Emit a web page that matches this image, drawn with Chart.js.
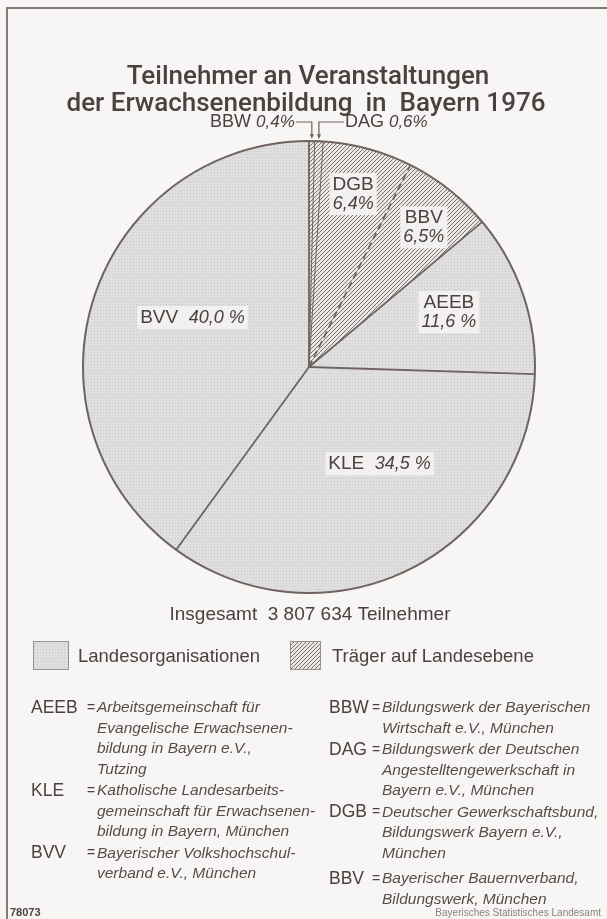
<!DOCTYPE html>
<html>
<head>
<meta charset="utf-8">
<script src="https://cdn.jsdelivr.net/npm/chart.js@4.4.1/dist/chart.umd.min.js"></script>
<style>
  html, body { margin: 0; padding: 0; background: #f7f6f4; }
  canvas { display: block; }
</style>
</head>
<body>
<canvas id="pie" width="607" height="919"></canvas>
<script>
// slices, clockwise from 12 o'clock
const labels = ['BBW', 'DAG', 'DGB', 'BBV', 'AEEB', 'KLE', 'BVV'];
const shares = [0.4, 0.6, 6.4, 6.5, 11.6, 34.5, 40.0];
const shareText = ['0,4%', '0,6%', '6,4%', '6,5%', '11,6 %', '34,5 %', '40,0 %'];
const groups = ['traeger', 'traeger', 'traeger', 'traeger', 'landes', 'landes', 'landes'];
const groupNames = ['Landesorganisationen', 'Träger auf Landesebene'];
const totalText = 'Insgesamt  3 807 634 Teilnehmer';
const titleLines = ['Teilnehmer an Veranstaltungen', 'der Erwachsenenbildung  in  Bayern 1976'];

const notesLeft = [
  ['AEEB', ['Arbeitsgemeinschaft für', 'Evangelische Erwachsenen-', 'bildung in Bayern e.V.,', 'Tutzing']],
  ['KLE', ['Katholische Landesarbeits-', 'gemeinschaft für Erwachsenen-', 'bildung in Bayern, München']],
  ['BVV', ['Bayerischer Volkshochschul-', 'verband e.V., München']]
];
const notesRight = [
  ['BBW', ['Bildungswerk der Bayerischen', 'Wirtschaft e.V., München']],
  ['DAG', ['Bildungswerk der Deutschen', 'Angestelltengewerkschaft in', 'Bayern e.V., München']],
  ['DGB', ['Deutscher Gewerkschaftsbund,', 'Bildungswerk Bayern e.V.,', 'München']],
  ['BBV', ['Bayerischer Bauernverband,', 'Bildungswerk, München']]
];

// label placement inside the slices: [radius fraction, angle shift in degrees, two lines]
const labelPlace = [null, null, [0.79, -0.8, true], [0.80, 1.1, true], [0.665, -2.3, true], [0.53, -10, false], [0.56, 5, false]];

const ink = '#4a4140';
const lineCol = '#6f6461';
const sans = '"Liberation Sans", Arial, sans-serif';

function makeDots() {
  const c = document.createElement('canvas');
  c.width = 3; c.height = 3;
  const g = c.getContext('2d');
  g.fillStyle = '#e0dfdf';
  g.fillRect(0, 0, 3, 3);
  g.fillStyle = '#c9c7c7';
  g.fillRect(1, 1, 1, 1);
  return g.createPattern(c, 'repeat');
}

function makeHatch() {
  const c = document.createElement('canvas');
  c.width = 4; c.height = 4;
  const g = c.getContext('2d');
  g.fillStyle = '#e9e7e6';
  g.fillRect(0, 0, 4, 4);
  g.fillStyle = '#7d7472';
  for (let i = 0; i < 4; i++) g.fillRect(3 - i, i, 1, 1);
  return g.createPattern(c, 'repeat');
}

function drawRuns(ctx, runs, x, y, align) {
  let w = 0;
  runs.forEach(r => { ctx.font = r.font; w += ctx.measureText(r.text).width; });
  let sx = align === 'center' ? x - w / 2 : (align === 'right' ? x - w : x);
  const start = sx;
  runs.forEach(r => {
    ctx.font = r.font;
    ctx.fillText(r.text, sx, y);
    sx += ctx.measureText(r.text).width;
  });
  return [start, w];
}

const dots = makeDots();
const hatch = makeHatch();

const pagePlugin = {
  id: 'page',
  beforeDraw(chart) {
    const ctx = chart.ctx;
    ctx.save();
    ctx.fillStyle = '#f7f6f4';
    ctx.fillRect(0, 0, chart.width, chart.height);
    // frame
    ctx.strokeStyle = '#857a77';
    ctx.lineWidth = 2;
    ctx.beginPath();
    ctx.moveTo(7, 919); ctx.lineTo(7, 8); ctx.lineTo(607, 8);
    ctx.stroke();

    ctx.fillStyle = ink;
    ctx.textBaseline = 'alphabetic';
    ctx.textAlign = 'left';
    // title
    drawRuns(ctx, [{ text: titleLines[0], font: '500 26px Roboto, ' + sans }], 308, 84, 'center');
    drawRuns(ctx, [{ text: titleLines[1], font: '500 26px Roboto, ' + sans }], 306, 111, 'center');

    // total
    drawRuns(ctx, [{ text: totalText, font: '19px ' + sans }], 310, 620, 'center');

    // legend
    const lx = [33, 290];
    [dots, hatch].forEach((p, i) => {
      const bw = i ? 30 : 35;
      ctx.fillStyle = p;
      ctx.fillRect(lx[i], 641, bw, 28);
      ctx.strokeStyle = '#9a908d';
      ctx.lineWidth = 1;
      ctx.strokeRect(lx[i] + 0.5, 641.5, bw, 28);
      ctx.fillStyle = ink;
      drawRuns(ctx, [{ text: groupNames[i], font: '18.5px ' + sans }], lx[i] + (i ? 42 : 45), 662, 'left');
    });

    // notes
    ctx.textBaseline = 'middle';
    const step = 20.5;
    const drawNotes = (notes, ax, ex, dx, lastGap) => {
      let y = 708;
      notes.forEach(([abbr, lines], n) => {
        if (n === notes.length - 1) y += lastGap;
        ctx.fillStyle = ink;
        drawRuns(ctx, [{ text: abbr, font: '17.5px ' + sans }], ax, y, 'left');
        drawRuns(ctx, [{ text: '=', font: '14px ' + sans }], ex, y, 'left');
        lines.forEach((t, k) => {
          ctx.fillStyle = '#564c4a';
          drawRuns(ctx, [{ text: t, font: 'italic 15.5px ' + sans }], dx, y + k * step, 'left');
        });
        y += lines.length * step + 1;
      });
    };
    drawNotes(notesLeft, 31, 87, 97, 0);
    drawNotes(notesRight, 329, 372, 382, 4);

    // footer
    ctx.textBaseline = 'alphabetic';
    ctx.fillStyle = '#4a4140';
    drawRuns(ctx, [{ text: '78073', font: 'bold 11px ' + sans }], 10, 916, 'left');
    ctx.fillStyle = '#8a8280';
    drawRuns(ctx, [{ text: 'Bayerisches Statistisches Landesamt', font: '10px ' + sans }], 601, 916, 'right');
    ctx.restore();
  },
  afterDatasetsDraw(chart) {
    const ctx = chart.ctx;
    const arcs = chart.getDatasetMeta(0).data;
    const cx = arcs[0].x, cy = arcs[0].y, r = arcs[0].outerRadius;
    ctx.save();
    ctx.strokeStyle = lineCol;
    // radial borders
    arcs.forEach((arc, i) => {
      const a = arc.startAngle;
      ctx.lineWidth = (i === 1 || i === 2) ? 1 : 1.8;
      ctx.setLineDash(i === 3 ? [7, 4] : []);
      ctx.beginPath();
      ctx.moveTo(cx, cy);
      ctx.lineTo(cx + r * Math.cos(a), cy + r * Math.sin(a));
      ctx.stroke();
    });
    ctx.setLineDash([]);
    ctx.lineWidth = 2;
    ctx.beginPath();
    ctx.arc(cx, cy, r, 0, Math.PI * 2);
    ctx.stroke();

    // labels inside slices
    ctx.textBaseline = 'middle';
    arcs.forEach((arc, i) => {
      const p = labelPlace[i];
      if (!p) return;
      const a = (arc.startAngle + arc.endAngle) / 2 + p[1] * Math.PI / 180;
      const x = cx + p[0] * r * Math.cos(a);
      const y = cy + p[0] * r * Math.sin(a);
      const nameRun = { text: labels[i], font: '19px ' + sans };
      const pctRun = { text: shareText[i], font: 'italic 18px ' + sans };
      let rows = p[2] ? [[nameRun], [pctRun]] : [[nameRun, { text: '  ', font: '19px ' + sans }, pctRun]];
      const widths = rows.map(row => row.reduce((w, rr) => { ctx.font = rr.font; return w + ctx.measureText(rr.text).width; }, 0));
      const bw = Math.max(...widths) + 6;
      const bh = rows.length * 19 + 4;
      ctx.fillStyle = '#f2f1ef';
      ctx.fillRect(x - bw / 2, y - bh / 2, bw, bh);
      ctx.fillStyle = ink;
      rows.forEach((row, k) => {
        const ry = y - (rows.length - 1) * 9.5 + k * 19;
        drawRuns(ctx, row, x, ry, 'center');
      });
    });

    // leader labels for the two thin slices
    ctx.strokeStyle = lineCol;
    ctx.lineWidth = 1.2;
    ctx.textBaseline = 'middle';
    const ly = 122;
    [0, 1].forEach(i => {
      const arc = arcs[i];
      const a = (arc.startAngle + arc.endAngle) / 2;
      const tx = cx + r * Math.cos(a);
      const ty = cy + r * Math.sin(a) - 2;
      const runs = [{ text: labels[i] + ' ', font: '18px ' + sans }, { text: shareText[i], font: 'italic 17px ' + sans }];
      ctx.fillStyle = ink;
      let ex;
      if (i === 0) {
        const [s, w] = drawRuns(ctx, runs, tx - 17, ly, 'right');
        ex = s + w;
      } else {
        const [s] = drawRuns(ctx, runs, tx + 26, ly, 'left');
        ex = s;
      }
      ctx.beginPath();
      ctx.moveTo(ex + (i === 0 ? 1 : -1), ly);
      ctx.lineTo(tx, ly);
      ctx.lineTo(tx, ty - 4);
      ctx.stroke();
      ctx.fillStyle = lineCol;
      ctx.beginPath();
      ctx.moveTo(tx - 2, ty - 5);
      ctx.lineTo(tx + 2, ty - 5);
      ctx.lineTo(tx, ty);
      ctx.closePath();
      ctx.fill();
    });
    ctx.restore();
  }
};

new Chart(document.getElementById('pie'), {
  type: 'pie',
  data: {
    labels: labels,
    datasets: [{
      data: shares,
      backgroundColor: groups.map(g => g === 'landes' ? dots : hatch),
      borderWidth: 0
    }]
  },
  options: {
    responsive: false,
    animation: false,
    layout: { padding: { left: 83, right: 72, top: 141, bottom: 326 } },
    plugins: {
      legend: { display: false },
      tooltip: { enabled: false }
    }
  },
  plugins: [pagePlugin]
});
</script>
</body>
</html>
